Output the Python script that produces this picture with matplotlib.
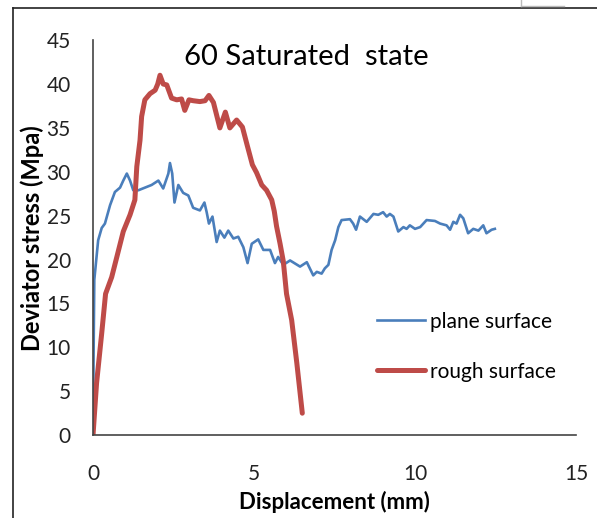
import matplotlib.pyplot as plt
from matplotlib.lines import Line2D

plt.rcParams['font.family'] = ['Lato', 'DejaVu Sans']

# plane surface test
plane_x = [0, 0.02, 0.04, 0.16, 0.27, 0.37, 0.53, 0.68, 0.84, 0.94, 1.05, 1.15, 1.25,
           1.41, 1.82, 2.03, 2.18, 2.34, 2.39, 2.46, 2.53, 2.65, 2.80, 2.96, 3.11,
           3.32, 3.46, 3.53, 3.60, 3.71, 3.84, 3.94, 4.08, 4.20, 4.36, 4.51, 4.67,
           4.80, 4.93, 5.13, 5.29, 5.50, 5.65, 5.75, 5.91, 6.12, 6.43, 6.64, 6.84,
           6.95, 7.10, 7.20, 7.31, 7.41, 7.52, 7.62, 7.72, 7.98, 8.08, 8.17, 8.29,
           8.50, 8.71, 8.86, 9.01, 9.12, 9.22, 9.33, 9.48, 9.64, 9.74, 9.84, 10.0,
           10.16, 10.36, 10.62, 10.78, 10.98, 11.09, 11.19, 11.29, 11.40, 11.50,
           11.65, 11.81, 11.97, 12.12, 12.22, 12.38, 12.48]
plane_y = [0, 10.0, 17.7, 22.2, 23.6, 24.1, 26.2, 27.7, 28.2, 29.0, 29.8, 29.0, 27.9,
           27.9, 28.5, 29.0, 28.1, 29.8, 31.0, 29.8, 26.5, 28.5, 27.6, 27.3, 25.9,
           25.6, 26.5, 25.4, 24.1, 24.9, 22.0, 23.3, 22.5, 23.3, 22.4, 22.6, 21.4,
           19.6, 21.8, 22.3, 21.1, 21.1, 19.6, 20.3, 19.4, 19.9, 19.2, 19.7, 18.2,
           18.6, 18.4, 19.0, 19.4, 21.1, 22.2, 23.7, 24.5, 24.6, 24.1, 23.4, 24.9,
           24.3, 25.2, 25.1, 25.4, 24.9, 25.2, 24.9, 23.2, 23.7, 23.5, 23.9, 23.5,
           23.7, 24.5, 24.4, 24.1, 23.9, 23.4, 24.3, 24.1, 25.1, 24.7,
           23.0, 23.5, 23.3, 23.9, 23.0, 23.4, 23.5]

# rough surface test
rough_x = [0, 0.11, 0.27, 0.39, 0.58, 0.74, 0.94, 1.15, 1.30, 1.36, 1.46, 1.51, 1.61,
           1.77, 1.93, 2.01, 2.08, 2.18, 2.29, 2.44, 2.60, 2.75, 2.85, 2.98, 3.11,
           3.32, 3.48, 3.60, 3.74, 3.94, 4.11, 4.25, 4.46, 4.64, 4.79, 4.95, 5.08,
           5.24, 5.39, 5.55, 5.63, 5.70, 5.81, 5.91, 6.01, 6.17, 6.33, 6.50]
rough_y = [0, 5.9, 11.6, 16.1, 18.0, 20.3, 23.2, 25.1, 26.8, 30.6, 33.6, 36.3, 38.2,
           38.9, 39.3, 40.0, 41.0, 40.0, 39.9, 38.4, 38.2, 38.3, 37.0, 38.2, 38.1,
           38.0, 38.1, 38.7, 37.9, 35.0, 36.8, 35.0, 35.9, 35.1, 33.0, 30.8, 29.9,
           28.5, 27.9, 26.8, 25.5, 23.8, 21.8, 19.8, 16.1, 13.1, 8.2, 2.5]

x_ticks = [0, 5, 10, 15]
y_ticks = [0, 5, 10, 15, 20, 25, 30, 35, 40, 45]

fig = plt.figure(figsize=(5.97, 5.18), dpi=100)
ax = fig.add_axes([0.1558, 0.160, 0.809, 0.7625])

ax.plot(plane_x, plane_y, color='#4a7ebb', lw=1.9, label='plane surface')
ax.plot(rough_x, rough_y, color='#be4b48', lw=3.6, label='rough surface',
        solid_capstyle='round')

ax.set_xlim(0, 15)
ax.set_ylim(0, 45)
ax.set_xticks(x_ticks)
ax.set_yticks(y_ticks)
ax.tick_params(length=0, labelsize=15, colors='#222222')
ax.tick_params(axis='y', pad=16)
ax.tick_params(axis='x', pad=21)
for s in ['top', 'right']:
    ax.spines[s].set_visible(False)
for s in ['left', 'bottom']:
    ax.spines[s].set_color('#444444')
    ax.spines[s].set_linewidth(1.2)

ax.set_xlabel('Displacement (mm)', fontsize=16, fontweight='bold', labelpad=5)
ax.set_ylabel('Deviator stress (Mpa)', fontsize=17, fontweight='bold', labelpad=2)

fig.text(0.513, 0.889, '60 Saturated  state', fontsize=21, ha='center', va='center')

ax.legend(loc='center left', bbox_to_anchor=(0.588, 0.224), frameon=False,
          fontsize=15, handlelength=2.3, handletextpad=0.25, labelspacing=1.45,
          borderpad=0, borderaxespad=0)

# outer chart border
W, H = 597, 518
fig.add_artist(Line2D([13 / W, 13 / W], [0, 1 - 8 / H], color='#222222', lw=1.2))
fig.add_artist(Line2D([13 / W, 1], [1 - 8 / H, 1 - 8 / H], color='#222222', lw=1.2))
fig.add_artist(Line2D([521 / W, 521 / W], [1, 1 - 6 / H], color='#bbbbbb', lw=1))
fig.add_artist(Line2D([521 / W, 564 / W], [1 - 6 / H, 1 - 6 / H], color='#bbbbbb', lw=1))

fig.savefig('out.png', dpi=100)
